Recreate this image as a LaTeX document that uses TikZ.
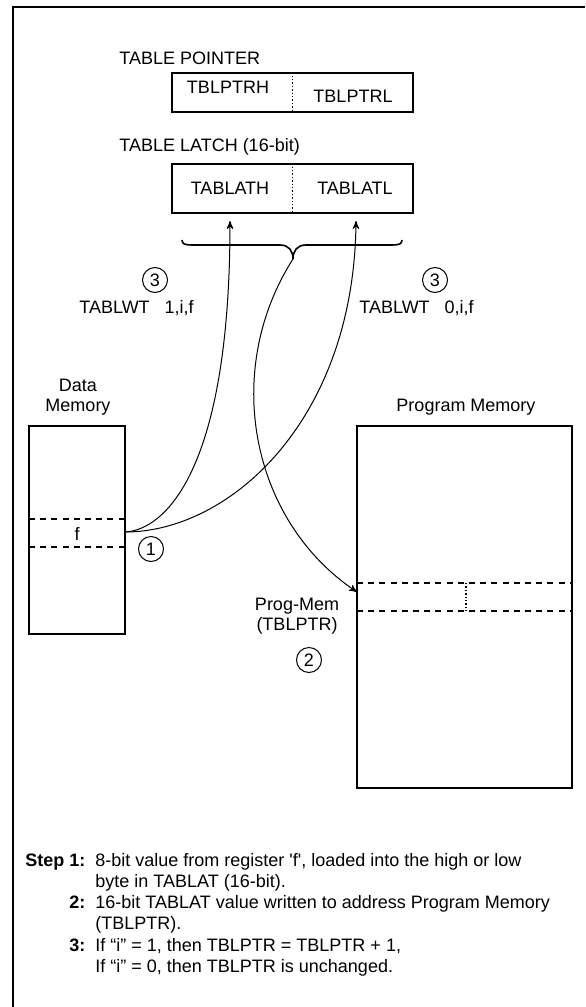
\documentclass[tikz,border=0pt]{standalone}
\usepackage{fontspec}
\setmainfont{Liberation Sans}
\usepackage{tikz}
\usetikzlibrary{arrows}

\begin{document}
\begin{tikzpicture}[x=0.5pt,y=-0.5pt,>=stealth',font=\fontsize{9}{10}\selectfont,
	reg box/.style={draw,line width=0.8pt,minimum width=120.5pt,inner sep=0pt},
	mem box/.style={draw,line width=0.9pt,inner sep=0pt},
	num/.style={circle,draw,line width=0.5pt,minimum size=12.5pt,inner sep=0pt},
	title/.style={anchor=west,inner sep=0pt},
	row line/.style={line width=0.9pt,dash pattern=on 3pt off 2.6pt},
	split/.style={line width=0.7pt,densely dotted},
	flow/.style={->,line width=0.5pt}]
	\useasboundingbox (0,0) rectangle (585,1007);
	\draw[line width=1pt] (585,7) -- (13,7) -- (13,1007);

	\node[title] (ptrlabel) at (119,58) {TABLE POINTER};
	\node[reg box,minimum height=19.5pt] (ptr) at (292.5,92.5) {};
	\node (ptrh) at (228,87) {TBLPTRH};
	\node (ptrl) at (353,96) {TBLPTRL};
	\draw[split] (ptr.north) -- (ptr.south);

	\node[title] (latchlabel) at (119,147) {TABLE LATCH (16-bit)};
	\node[reg box,minimum height=24.5pt] (latch) at (292.5,188.5) {};
	\node (lath) at (230,188) {TABLATH};
	\node (latl) at (355,188) {TABLATL};
	\draw[split] (latch.north) -- (latch.south);
	\coordinate (hiin) at (230,221);
	\coordinate (loin) at (356,221);

	\draw[line width=0.8pt] (182,240) .. controls (182,244) and (185,245) .. (192,245) -- (280,245)
		.. controls (289,245) and (293,251) .. (293,259) .. controls (293,251) and (297,245) .. (306,245)
		-- (392,245) .. controls (399,245) and (402,244) .. (402,240);
	\coordinate (tip) at (293,259);

	\node[num] (wr1) at (155,280) {3};
	\node[title] (tw1) at (79,308) {TABLWT\hspace{7.5pt}1,i,f};
	\node[num] (wr0) at (435,280) {3};
	\node[title] (tw0) at (359,308) {TABLWT\hspace{7.5pt}0,i,f};

	\node[align=center] (dmlabel) at (78,397) {Data\\Memory};
	\node (pmlabel) at (466,407) {Program Memory};

	\node[mem box,minimum width=48pt,minimum height=104pt] (datamem) at (77,530) {};
	\draw[row line] (29,519) -- (125,519);
	\draw[row line] (29,547) -- (125,547);
	\node (f) at (77,534) {f};
	\coordinate (freg) at (125,532);
	\node[num] (s1) at (151,549) {1};

	\node[mem box,minimum width=107.5pt,minimum height=181pt] (progmem) at (464.5,607) {};
	\draw[row line] (357,583) -- (572,583);
	\draw[row line] (357,611) -- (572,611);
	\draw[split] (466,583) -- (466,611);
	\coordinate (pmin) at (357,592);
	\node[align=center] (pmaddr) at (297,616) {Prog-Mem\\(TBLPTR)};
	\node[num] (s2) at (309,660) {2};

	\draw[flow] (freg) .. controls (165,530) and (230,470) .. (hiin);
	\draw[flow] (freg) .. controls (230,532) and (354,420) .. (loin);
	\draw[flow] (tip) .. controls (222,370) and (250,520) .. (pmin);

	\node[anchor=north west,inner sep=0pt] (steps) at (25,851) {\fontsize{9}{10.6}\selectfont
		\begin{tabular}{@{}r@{\hspace{5pt}}l@{}}
			\textbf{Step 1:} & 8-bit value from register \textquotesingle f\textquotesingle, loaded into the high or low\\
			& byte in TABLAT (16-bit).\\
			\textbf{2:} & 16-bit TABLAT value written to address Program Memory\\
			& (TBLPTR).\\
			\textbf{3:} & If “i” = 1, then TBLPTR = TBLPTR + 1,\\
			& If “i” = 0, then TBLPTR is unchanged.
		\end{tabular}};
\end{tikzpicture}
\end{document}
